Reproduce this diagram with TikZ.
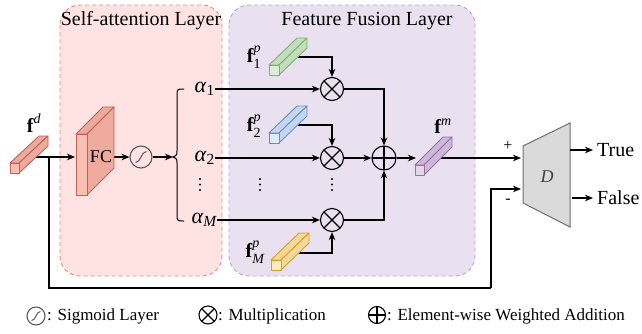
\documentclass[tikz,border=0pt]{standalone}
\usepackage{fontspec}
\setmainfont{Liberation Serif}
\usepackage{amsmath}
\usetikzlibrary{arrows.meta,calc}

\definecolor{saBg}{HTML}{FFE3E3}
\definecolor{saLine}{HTML}{E08888}
\definecolor{ffBg}{HTML}{E9E1EF}
\definecolor{ffLine}{HTML}{B9A3CF}
\definecolor{redF}{HTML}{F9BFB3}
\definecolor{redS}{HTML}{EDAA9D}
\definecolor{redL}{HTML}{C0625A}
\definecolor{greenF}{HTML}{D9EDD7}
\definecolor{greenS}{HTML}{C3DDBF}
\definecolor{greenL}{HTML}{82B366}
\definecolor{blueF}{HTML}{DDEBFD}
\definecolor{blueS}{HTML}{C3D6F2}
\definecolor{blueL}{HTML}{6C8EBF}
\definecolor{orangeF}{HTML}{FFEBB8}
\definecolor{orangeS}{HTML}{F6D89C}
\definecolor{orangeL}{HTML}{D6A21E}
\definecolor{purpleF}{HTML}{E3D6EA}
\definecolor{purpleS}{HTML}{CDB8D9}
\definecolor{purpleL}{HTML}{9673A6}
\definecolor{discF}{HTML}{DADADA}
\definecolor{discL}{HTML}{6E6E6E}

% cuboid: front top-left corner, width, height, depth dx, depth dy, colour prefix
\newcommand\cuboid[6]{%
  \filldraw[fill=#6S, draw=#6L, cubeline] #1 -- ++(#2,0) -- ++(#4,#5) -- ++(-#2,0) -- cycle;
  \filldraw[fill=#6S, draw=#6L, cubeline] #1 ++(#2,0) -- ++(0,#3) -- ++(#4,#5) -- ++(0,-#3) -- cycle;
  \filldraw[fill=#6F, draw=#6L, cubeline] #1 rectangle ++(#2,#3);
}
% column of three dots centred at x
\newcommand\dotcol[1]{%
  \fill (#1,179) circle (1.1) (#1,184.5) circle (1.1) (#1,190) circle (1.1);
}

\tikzset{
  panel/.style={dashed, dash pattern=on 4pt off 3pt, line width=0.9pt, rounded corners=20pt},
  title/.style={font=\fontsize{20}{22}\selectfont, inner sep=0pt},
  lab/.style={font=\fontsize{18}{20}\selectfont, inner sep=0pt},
  flab/.style={font=\fontsize{20}{22}\selectfont, inner sep=0pt},
  alab/.style={font=\fontsize{22}{24}\selectfont, inner sep=0pt},
  txt/.style={font=\fontsize{20}{22}\selectfont, inner sep=0pt},
  legtxt/.style={font=\fontsize{17}{19}\selectfont, inner sep=0pt, anchor=west},
  cubeline/.style={line width=0.9pt, line join=round},
  ln/.style={line width=1.1pt},
  arr/.style={line width=1.1pt, -{Stealth[length=8pt, width=6.5pt, inset=2.5pt]}},
  opc/.style={circle, draw, line width=1.1pt, inner sep=0pt, minimum size=#1},
  mulop/.style={opc=#1, path picture={
      \draw[line width=1.1pt] (path picture bounding box.north west) -- (path picture bounding box.south east)
        (path picture bounding box.north east) -- (path picture bounding box.south west);}},
  addop/.style={opc=#1, path picture={
      \draw[line width=1.1pt] (path picture bounding box.north) -- (path picture bounding box.south)
        (path picture bounding box.east) -- (path picture bounding box.west);}},
  sigop/.style={opc=#1, draw=black!65, path picture={
      \draw[line width=1pt]
        ($(path picture bounding box.center)!.5!(path picture bounding box.south west)$)
        .. controls ($(path picture bounding box.center)!.5!(path picture bounding box.south)$)
        and ($(path picture bounding box.center)!.5!(path picture bounding box.north)$)
        .. ($(path picture bounding box.center)!.5!(path picture bounding box.north east)$);}},
}

\begin{document}
\begin{tikzpicture}[x=1pt, y=-1pt]
\useasboundingbox (0,0) rectangle (642,333);

% layer panels
\draw[panel, fill=saBg, draw=saLine] (60,5) rectangle (222,276);
\draw[panel, fill=ffBg, draw=ffLine] (229,5) rectangle (475,276);
\node[title] (satitle) at (141,21) {Self-attention Layer};
\node[title] (fftitle) at (367,21) {Feature Fusion Layer};

% anchor points of the feature blocks
\coordinate (fdc) at (29,157);
\coordinate (br) at (49,157);
\coordinate (fcin) at (75,157);
\coordinate (fcout) at (114,157);
\coordinate (bt) at (173,157);
\coordinate (p1c) at (288,57);
\coordinate (p2c) at (288,125);
\coordinate (pMc) at (290,253);
\coordinate (fmin) at (416,158);
\coordinate (fmc) at (436,158);
\coordinate (dplus) at (521,158);
\coordinate (dminus) at (521,189);
\coordinate (dtrue) at (570,150);
\coordinate (dfalse) at (572,198);
\coordinate (lb) at (49,288);
\coordinate (rb) at (491,288);

% operators
\node[sigop=22pt, fill=saBg] (sig) at (141,157) {};
\node[mulop=23pt, fill=ffBg] (m1) at (332,89) {};
\node[mulop=23pt, fill=ffBg] (m2) at (332,158) {};
\node[mulop=23pt, fill=ffBg] (mM) at (332,220) {};
\node[addop=24pt, fill=ffBg] (add) at (384,158) {};

% attention weights
\node[alab, anchor=east] (a1) at (215,89) {$\text{\textit{α}}_{\text{1}}$};
\node[alab, anchor=east] (a2) at (215,158) {$\text{\textit{α}}_{\text{2}}$};
\node[alab, anchor=east] (aM) at (217,220) {$\text{\textit{α}}_{\textit{M}}$};
\dotcol{200}
\dotcol{260}
\dotcol{332}

% brace gathering the weights
\draw[line width=1pt] (184,89) .. controls (177,89) .. (177,96) -- (177,151)
  .. controls (177,155) .. (bt) .. controls (177,159) .. (177,163) -- (177,214)
  .. controls (177,221) .. (184,221);

% discriminator
\filldraw[fill=discF, draw=discL, line width=1pt] (523,146) -- (570,123) -- (570,227) -- (523,203) -- cycle;
\node[lab, font=\fontsize{18}{20}\selectfont\itshape, text=black!75] (D) at (547,177) {D};
\node[lab, font=\fontsize{16}{18}\selectfont] (plus) at (508,146) {+};
\node[lab, font=\fontsize{16}{18}\selectfont] (minus) at (508,201) {-};
\node[txt, anchor=west] (true) at (597,150) {True};
\node[txt, anchor=west] (false) at (597,198) {False};

% connectors
\draw[arr] (fdc) -- (fcin);
\draw[ln] (br) -- (lb) -- (rb);
\draw[arr] (rb) |- (dminus);
\draw[arr] (fcout) -- (sig.west);
\draw[arr] (sig.east) -- (bt);
\draw[arr] (a1.east) -- (m1.west);
\draw[arr] (a2.east) -- (m2.west);
\draw[arr] (aM.east) -- (mM.west);
\draw[arr] (p1c) -| (m1.north);
\draw[arr] (p2c) -| (m2.north);
\draw[arr] (pMc) -| (mM.south);
\draw[arr] (m1.east) -| (add.north);
\draw[arr] (m2.east) -- (add.west);
\draw[arr] (mM.east) -| (add.south);
\draw[arr] (add.east) -- (fmin);
\draw[arr] (fmc) -- (dplus);
\draw[arr] (dtrue) -- ([xshift=-4pt]true.west);
\draw[arr] (dfalse) -- ([xshift=-4pt]false.west);

% feature blocks
\cuboid{(10,163)}{9}{10}{29}{-27}{red}
\cuboid{(76,134)}{11}{61}{27}{-27}{red}
\cuboid{(269,65)}{10}{10}{28}{-27}{green}
\cuboid{(269,133)}{10}{10}{28}{-27}{blue}
\cuboid{(271,260)}{10}{10}{28}{-27}{orange}
\cuboid{(415,165)}{9}{10}{28}{-28}{purple}
\node[lab] (fc) at (101,157) {FC};

% feature labels
\node[flab] (fd) at (34,123) {$\textbf{f}^{\textit{d}}$};
\node[flab] (f1) at (254,57) {$\textbf{f}_{\text{1}}^{\textit{p}}$};
\node[flab] (f2) at (254,126) {$\textbf{f}_{\text{2}}^{\textit{p}}$};
\node[flab] (fM) at (255,252) {$\textbf{f}_{\textit{M}}^{\textit{p}}$};
\node[flab] (fm) at (443,126) {$\textbf{f}^{\textit{m}}$};

% legend
\node[sigop=18pt] (lsig) at (36,316) {};
\node[legtxt] (lsigt) at (47,316) {: Sigmoid Layer};
\node[mulop=18pt] (lmul) at (208,315) {};
\node[legtxt] (lmult) at (218,316) {: Multiplication};
\node[addop=17pt] (ladd) at (377,315) {};
\node[legtxt] (laddt) at (387,316) {: Element-wise Weighted Addition};
\end{tikzpicture}
\end{document}
